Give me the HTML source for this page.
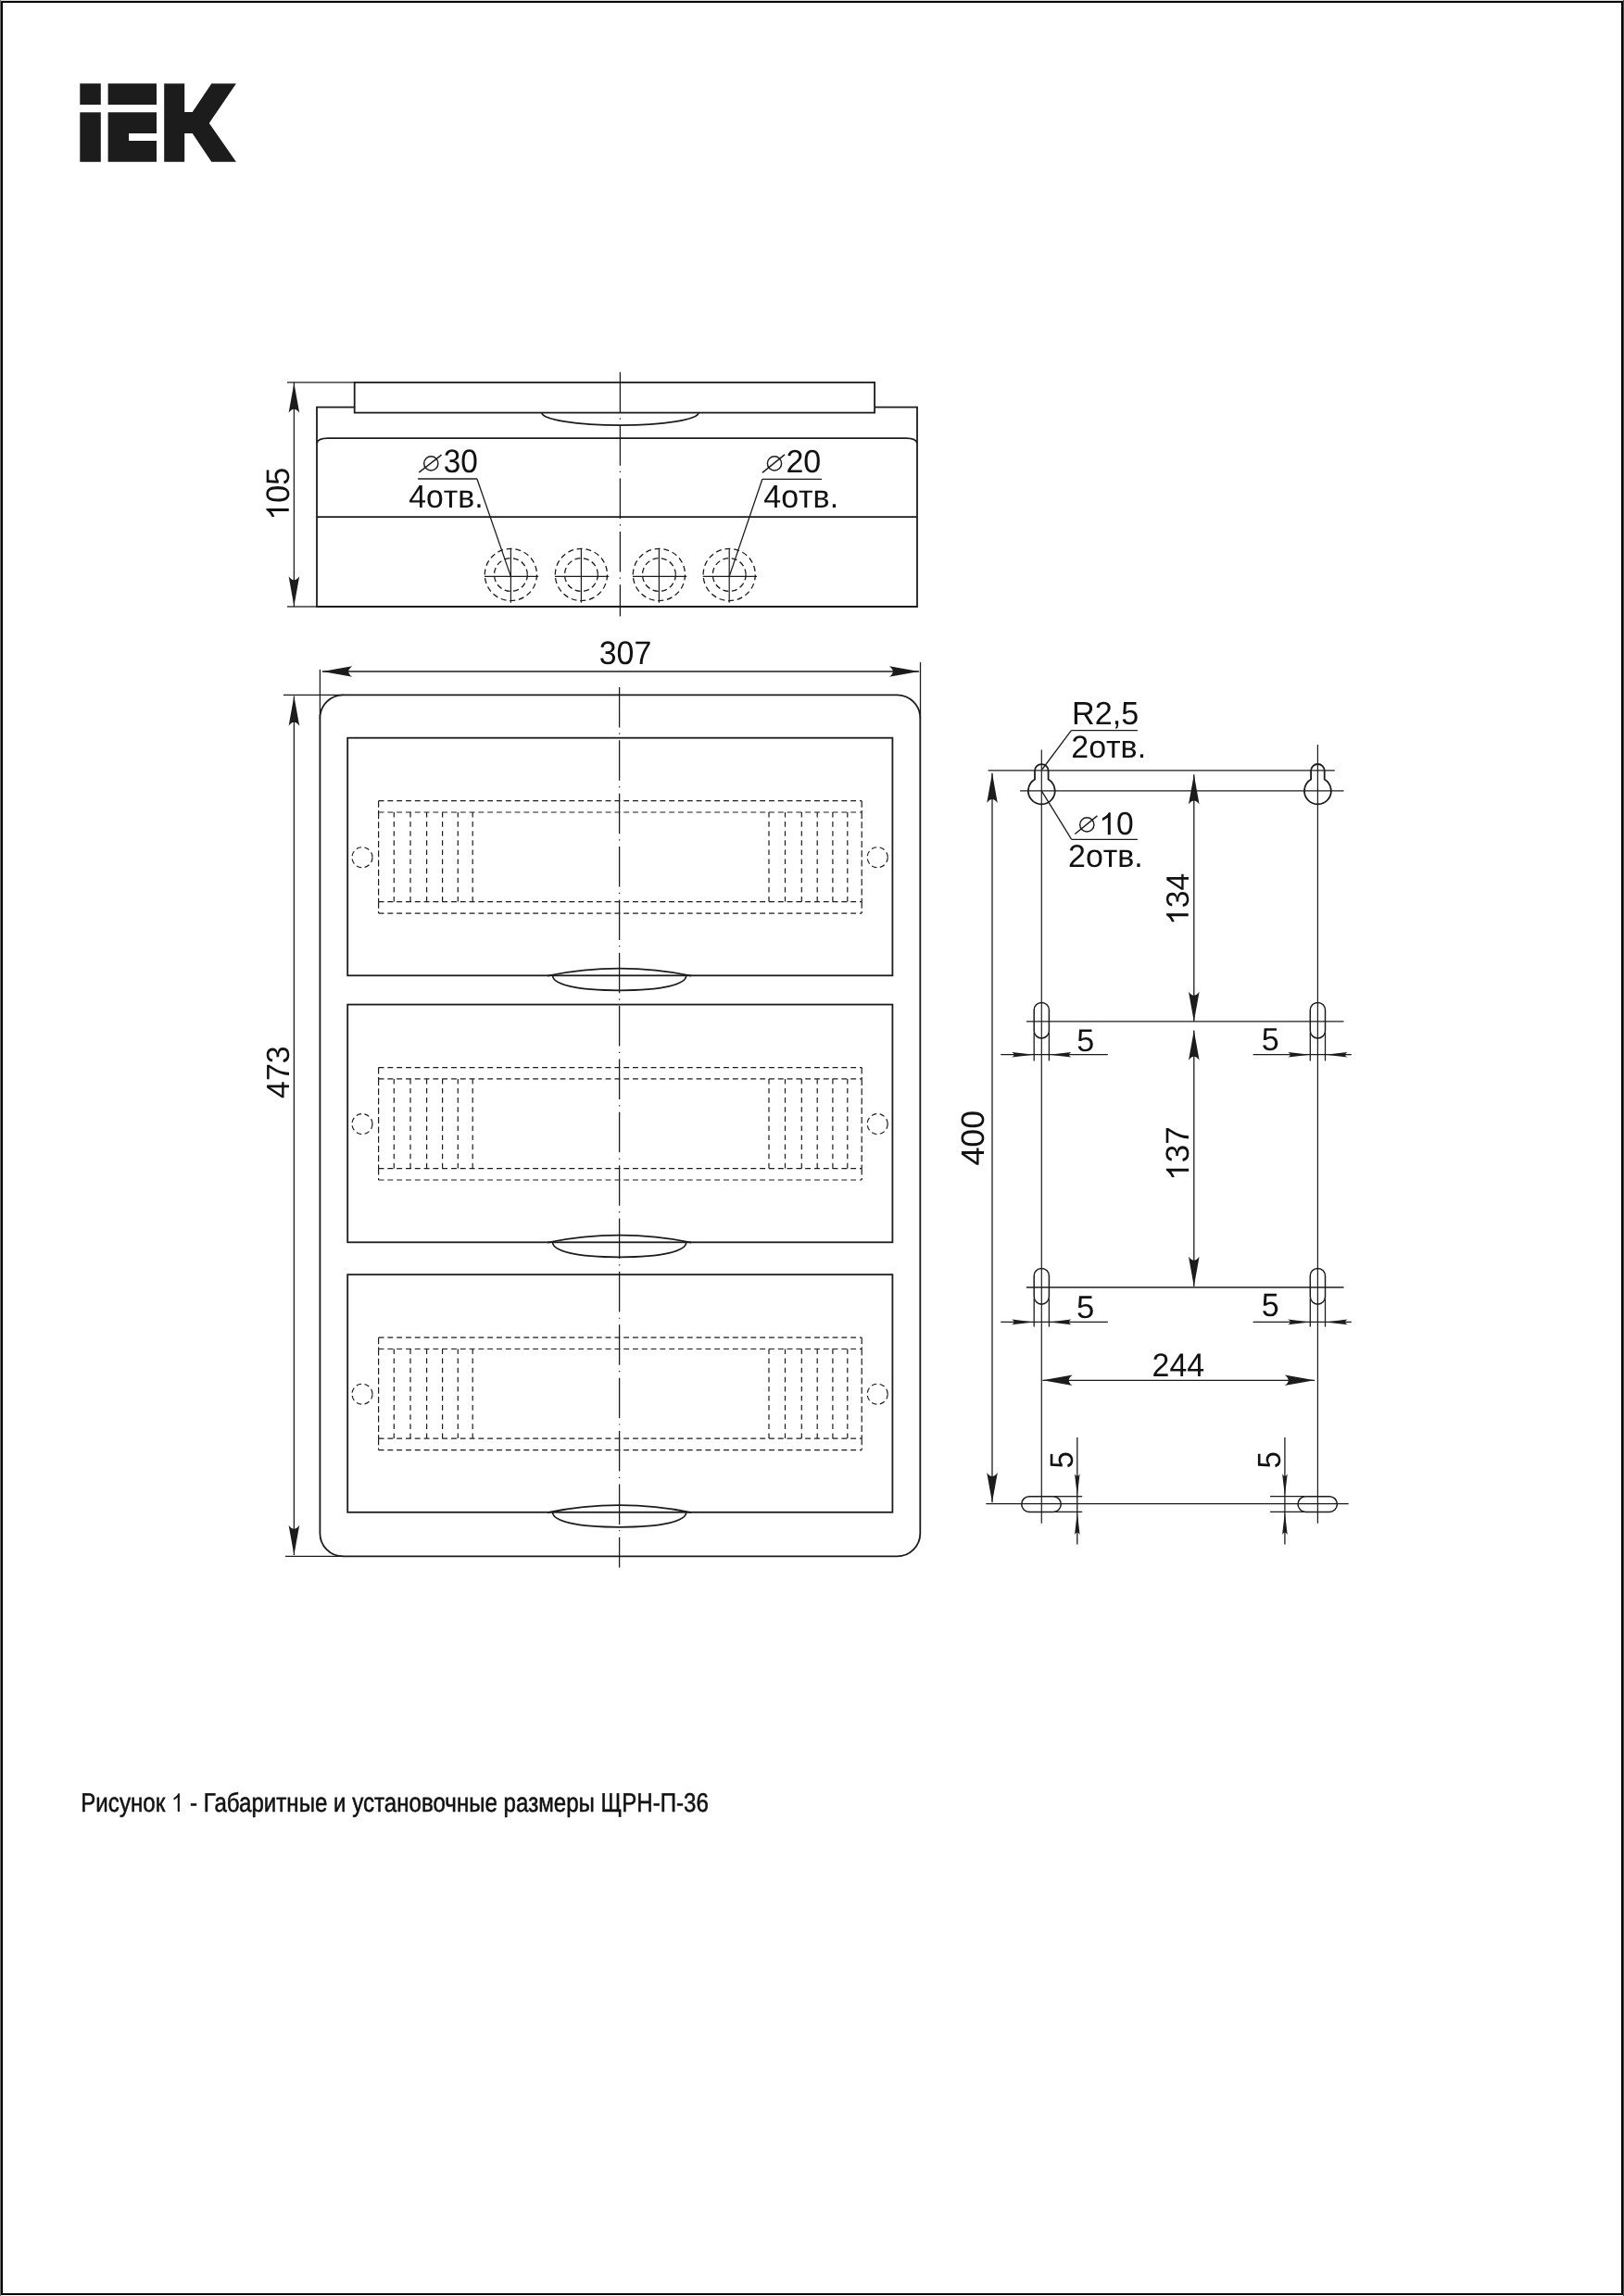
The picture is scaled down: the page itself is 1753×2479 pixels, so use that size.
<!DOCTYPE html>
<html><head><meta charset="utf-8"><style>
html,body{margin:0;padding:0;background:#fff;}
body{width:1753px;height:2479px;position:relative;overflow:hidden;}
#frame{position:absolute;left:1px;top:1px;width:1747px;height:2473px;border:2px solid #000;}
#edgeL{position:absolute;left:0;top:0;width:1px;height:2479px;background:#707070;}
#edgeT{position:absolute;left:0;top:0;width:1753px;height:1px;background:#dcdcdc;}
#edgeR{position:absolute;left:1752px;top:0;width:1px;height:2479px;background:#4a4a4a;}
svg{position:absolute;left:0;top:0;will-change:transform;}
svg text{font-family:"Liberation Sans", sans-serif;fill:#111;font-kerning:none;text-rendering:geometricPrecision;}
.cap{position:absolute;left:88px;top:1930px;font-family:"Liberation Sans", sans-serif;font-size:28px;color:#111;white-space:nowrap;}
</style></head><body>
<div id="edgeT"></div><div id="edgeL"></div><div id="edgeR"></div><div id="frame"></div>
<svg width="1753" height="2479" viewBox="0 0 1753 2479">
<g fill="#1c1c1c"><rect x="86.3" y="90.2" width="22.5" height="22.8"/><rect x="86.3" y="121.3" width="22.5" height="53.5"/><rect x="116.6" y="90.2" width="52.4" height="22.8"/><path d="M116.6,121.3 H169 V144 H139.1 V152 H169 V174.8 H116.6 Z"/><path d="M177.2,90.2 H199.2 V121 H207.7 L228.3,90.2 H254.9 L225.8,133 L254.9,174.8 H228.3 L207.7,144 H199.2 V174.8 H177.2 Z"/></g>
<rect x="382.7" y="412.9" width="561.4" height="32.7" stroke="#1c1c1c" stroke-width="1.8" fill="none"/>
<path d="M382.7,439.6 H342 V655 H990 V439.6 H944.1" stroke="#1c1c1c" stroke-width="1.8" fill="none" />
<path d="M342,478.5 Q343,473.2 354,473.2 H978 Q989,473.2 990,478.5" stroke="#1c1c1c" stroke-width="1.8" fill="none" />
<line x1="342.00" y1="558.20" x2="990.00" y2="558.20" stroke="#1c1c1c" stroke-width="1.8" />
<path d="M584.8,445.6 A84.65,13.6 0 0 0 754.1,445.6" stroke="#1c1c1c" stroke-width="1.8" fill="none" />
<line x1="342.00" y1="655.00" x2="990.00" y2="655.00" stroke="#1c1c1c" stroke-width="2.0" />
<line x1="669.40" y1="401.80" x2="669.40" y2="665.60" stroke="#1c1c1c" stroke-width="1.3" stroke-dasharray="43.5 6.2 1.2 6.47"/>
<circle cx="551.4" cy="620.5" r="28.1" stroke="#1c1c1c" stroke-width="1.3" fill="none" stroke-dasharray="6 3.8"/>
<circle cx="551.4" cy="620.5" r="17.9" stroke="#1c1c1c" stroke-width="1.3" fill="none" stroke-dasharray="6 3.6"/>
<line x1="523.00" y1="622.40" x2="581.20" y2="622.40" stroke="#1c1c1c" stroke-width="1.2" />
<line x1="551.40" y1="592.40" x2="551.40" y2="650.80" stroke="#1c1c1c" stroke-width="1.2" />
<circle cx="627.4" cy="620.5" r="28.1" stroke="#1c1c1c" stroke-width="1.3" fill="none" stroke-dasharray="6 3.8"/>
<circle cx="627.4" cy="620.5" r="17.9" stroke="#1c1c1c" stroke-width="1.3" fill="none" stroke-dasharray="6 3.6"/>
<line x1="599.00" y1="622.40" x2="657.20" y2="622.40" stroke="#1c1c1c" stroke-width="1.2" />
<line x1="627.40" y1="592.40" x2="627.40" y2="650.80" stroke="#1c1c1c" stroke-width="1.2" />
<circle cx="711.4" cy="620.5" r="28.1" stroke="#1c1c1c" stroke-width="1.3" fill="none" stroke-dasharray="6 3.8"/>
<circle cx="711.4" cy="620.5" r="17.9" stroke="#1c1c1c" stroke-width="1.3" fill="none" stroke-dasharray="6 3.6"/>
<line x1="683.00" y1="622.40" x2="741.20" y2="622.40" stroke="#1c1c1c" stroke-width="1.2" />
<line x1="711.40" y1="592.40" x2="711.40" y2="650.80" stroke="#1c1c1c" stroke-width="1.2" />
<circle cx="787.2" cy="620.5" r="28.1" stroke="#1c1c1c" stroke-width="1.3" fill="none" stroke-dasharray="6 3.8"/>
<circle cx="787.2" cy="620.5" r="17.9" stroke="#1c1c1c" stroke-width="1.3" fill="none" stroke-dasharray="6 3.6"/>
<line x1="758.80" y1="622.40" x2="817.00" y2="622.40" stroke="#1c1c1c" stroke-width="1.2" />
<line x1="787.20" y1="592.40" x2="787.20" y2="650.80" stroke="#1c1c1c" stroke-width="1.2" />
<line x1="310.00" y1="412.90" x2="382.70" y2="412.90" stroke="#1c1c1c" stroke-width="1.3" />
<line x1="310.00" y1="655.00" x2="342.00" y2="655.00" stroke="#1c1c1c" stroke-width="1.3" />
<line x1="317.40" y1="412.90" x2="317.40" y2="655.00" stroke="#1c1c1c" stroke-width="1.3" />
<path d="M317.40,413.50 L323.20,445.80 Q317.40,437.80 311.60,445.80 Z" fill="#1c1c1c"/>
<path d="M317.40,654.50 L311.60,622.20 Q317.40,630.20 323.20,622.20 Z" fill="#1c1c1c"/>
<g transform="matrix(0,-0.34139,0.35311,0,311.747,561.621)"><path transform="translate(0.00,0.00) scale(100.000,-96.100)" d="M0.373,0 L0.285,0 L0.285,0.560 C0.264,0.540 0.236,0.520 0.201,0.499 C0.167,0.479 0.136,0.464 0.109,0.453 L0.109,0.538 C0.158,0.561 0.201,0.589 0.238,0.622 C0.275,0.655 0.301,0.687 0.316,0.716 L0.373,0.716 Z" fill="#111"/><text x="55.62" y="0" font-size="100.0">05</text></g>
<circle cx="465.30" cy="500.40" r="7.6" stroke="#1c1c1c" stroke-width="1.45" fill="none"/>
<line x1="452.20" y1="510.10" x2="476.60" y2="491.10" stroke="#1c1c1c" stroke-width="1.45" />
<g transform="matrix(0.33425,0,0,0.35452,478.630,510.045)"><text x="0.00" y="0" font-size="100.0">30</text></g>
<line x1="451.10" y1="517.00" x2="514.90" y2="517.00" stroke="#1c1c1c" stroke-width="1.3" />
<line x1="514.90" y1="517.00" x2="551.40" y2="622.40" stroke="#1c1c1c" stroke-width="1.3" />
<g transform="matrix(0.33810,0,0,0.34814,441.222,548.052)"><text x="0.00" y="0" font-size="100.0">4отв.</text></g>
<circle cx="836.00" cy="500.40" r="7.6" stroke="#1c1c1c" stroke-width="1.45" fill="none"/>
<line x1="822.90" y1="510.40" x2="847.00" y2="490.90" stroke="#1c1c1c" stroke-width="1.45" />
<g transform="matrix(0.34012,0,0,0.34746,848.399,509.553)"><text x="0.00" y="0" font-size="100.0">20</text></g>
<line x1="822.90" y1="517.30" x2="887.10" y2="517.30" stroke="#1c1c1c" stroke-width="1.3" />
<line x1="822.90" y1="517.30" x2="787.20" y2="622.40" stroke="#1c1c1c" stroke-width="1.3" />
<g transform="matrix(0.33943,0,0,0.34814,824.319,547.952)"><text x="0.00" y="0" font-size="100.0">4отв.</text></g>
<rect x="345.4" y="750.3" width="647.9" height="930.1" rx="25" ry="25" stroke="#1c1c1c" stroke-width="1.8" fill="none"/>
<rect x="375.2" y="796.7" width="588.2" height="256.6" stroke="#1c1c1c" stroke-width="1.8" fill="none"/>
<line x1="408.60" y1="864.70" x2="930.20" y2="864.70" stroke="#1c1c1c" stroke-width="1.2" stroke-dasharray="5.9 3.9"/>
<line x1="408.60" y1="877.00" x2="930.20" y2="877.00" stroke="#1c1c1c" stroke-width="1.2" stroke-dasharray="5.9 3.9"/>
<line x1="408.60" y1="973.70" x2="930.20" y2="973.70" stroke="#1c1c1c" stroke-width="1.2" stroke-dasharray="5.9 3.9"/>
<line x1="408.60" y1="986.10" x2="930.20" y2="986.10" stroke="#1c1c1c" stroke-width="1.2" stroke-dasharray="5.9 3.9"/>
<line x1="408.60" y1="864.70" x2="408.60" y2="877.00" stroke="#1c1c1c" stroke-width="1.2" stroke-dasharray="7 3.3"/>
<line x1="408.60" y1="877.00" x2="408.60" y2="973.70" stroke="#1c1c1c" stroke-width="1.2" stroke-dasharray="7 3.3"/>
<line x1="408.60" y1="973.70" x2="408.60" y2="986.10" stroke="#1c1c1c" stroke-width="1.2" stroke-dasharray="7 3.3"/>
<line x1="930.20" y1="864.70" x2="930.20" y2="877.00" stroke="#1c1c1c" stroke-width="1.2" stroke-dasharray="7 3.3"/>
<line x1="930.20" y1="877.00" x2="930.20" y2="973.70" stroke="#1c1c1c" stroke-width="1.2" stroke-dasharray="7 3.3"/>
<line x1="930.20" y1="973.70" x2="930.20" y2="986.10" stroke="#1c1c1c" stroke-width="1.2" stroke-dasharray="7 3.3"/>
<line x1="425.30" y1="877.00" x2="425.30" y2="973.70" stroke="#1c1c1c" stroke-width="1.2" stroke-dasharray="5.6 4.5"/>
<line x1="443.00" y1="877.00" x2="443.00" y2="973.70" stroke="#1c1c1c" stroke-width="1.2" stroke-dasharray="5.6 4.5"/>
<line x1="460.60" y1="877.00" x2="460.60" y2="973.70" stroke="#1c1c1c" stroke-width="1.2" stroke-dasharray="5.6 4.5"/>
<line x1="477.60" y1="877.00" x2="477.60" y2="973.70" stroke="#1c1c1c" stroke-width="1.2" stroke-dasharray="5.6 4.5"/>
<line x1="494.30" y1="877.00" x2="494.30" y2="973.70" stroke="#1c1c1c" stroke-width="1.2" stroke-dasharray="5.6 4.5"/>
<line x1="510.20" y1="877.00" x2="510.20" y2="973.70" stroke="#1c1c1c" stroke-width="1.2" stroke-dasharray="5.6 4.5"/>
<line x1="830.00" y1="877.00" x2="830.00" y2="973.70" stroke="#1c1c1c" stroke-width="1.2" stroke-dasharray="5.6 4.5"/>
<line x1="847.50" y1="877.00" x2="847.50" y2="973.70" stroke="#1c1c1c" stroke-width="1.2" stroke-dasharray="5.6 4.5"/>
<line x1="865.30" y1="877.00" x2="865.30" y2="973.70" stroke="#1c1c1c" stroke-width="1.2" stroke-dasharray="5.6 4.5"/>
<line x1="882.20" y1="877.00" x2="882.20" y2="973.70" stroke="#1c1c1c" stroke-width="1.2" stroke-dasharray="5.6 4.5"/>
<line x1="898.90" y1="877.00" x2="898.90" y2="973.70" stroke="#1c1c1c" stroke-width="1.2" stroke-dasharray="5.6 4.5"/>
<line x1="914.80" y1="877.00" x2="914.80" y2="973.70" stroke="#1c1c1c" stroke-width="1.2" stroke-dasharray="5.6 4.5"/>
<circle cx="391" cy="925.7" r="11" stroke="#1c1c1c" stroke-width="1.2" fill="none" stroke-dasharray="5.5 3.5"/>
<circle cx="947.2" cy="925.7" r="11" stroke="#1c1c1c" stroke-width="1.2" fill="none" stroke-dasharray="5.5 3.5"/>
<path d="M591.1,1053.6 A389.4,389.4 0 0 1 746.2,1053.6" stroke="#1c1c1c" stroke-width="1.7" fill="none" />
<path d="M596.6,1053.3 C596.6,1062.8999999999999 621.8175,1069.3 668.65,1069.3 C715.4825,1069.3 740.6999999999999,1062.8999999999999 740.6999999999999,1053.3" stroke="#1c1c1c" stroke-width="1.7" fill="none" />
<rect x="375.2" y="1084.6" width="588.2" height="256.7" stroke="#1c1c1c" stroke-width="1.8" fill="none"/>
<line x1="408.60" y1="1152.60" x2="930.20" y2="1152.60" stroke="#1c1c1c" stroke-width="1.2" stroke-dasharray="5.9 3.9"/>
<line x1="408.60" y1="1164.90" x2="930.20" y2="1164.90" stroke="#1c1c1c" stroke-width="1.2" stroke-dasharray="5.9 3.9"/>
<line x1="408.60" y1="1261.60" x2="930.20" y2="1261.60" stroke="#1c1c1c" stroke-width="1.2" stroke-dasharray="5.9 3.9"/>
<line x1="408.60" y1="1274.00" x2="930.20" y2="1274.00" stroke="#1c1c1c" stroke-width="1.2" stroke-dasharray="5.9 3.9"/>
<line x1="408.60" y1="1152.60" x2="408.60" y2="1164.90" stroke="#1c1c1c" stroke-width="1.2" stroke-dasharray="7 3.3"/>
<line x1="408.60" y1="1164.90" x2="408.60" y2="1261.60" stroke="#1c1c1c" stroke-width="1.2" stroke-dasharray="7 3.3"/>
<line x1="408.60" y1="1261.60" x2="408.60" y2="1274.00" stroke="#1c1c1c" stroke-width="1.2" stroke-dasharray="7 3.3"/>
<line x1="930.20" y1="1152.60" x2="930.20" y2="1164.90" stroke="#1c1c1c" stroke-width="1.2" stroke-dasharray="7 3.3"/>
<line x1="930.20" y1="1164.90" x2="930.20" y2="1261.60" stroke="#1c1c1c" stroke-width="1.2" stroke-dasharray="7 3.3"/>
<line x1="930.20" y1="1261.60" x2="930.20" y2="1274.00" stroke="#1c1c1c" stroke-width="1.2" stroke-dasharray="7 3.3"/>
<line x1="425.30" y1="1164.90" x2="425.30" y2="1261.60" stroke="#1c1c1c" stroke-width="1.2" stroke-dasharray="5.6 4.5"/>
<line x1="443.00" y1="1164.90" x2="443.00" y2="1261.60" stroke="#1c1c1c" stroke-width="1.2" stroke-dasharray="5.6 4.5"/>
<line x1="460.60" y1="1164.90" x2="460.60" y2="1261.60" stroke="#1c1c1c" stroke-width="1.2" stroke-dasharray="5.6 4.5"/>
<line x1="477.60" y1="1164.90" x2="477.60" y2="1261.60" stroke="#1c1c1c" stroke-width="1.2" stroke-dasharray="5.6 4.5"/>
<line x1="494.30" y1="1164.90" x2="494.30" y2="1261.60" stroke="#1c1c1c" stroke-width="1.2" stroke-dasharray="5.6 4.5"/>
<line x1="510.20" y1="1164.90" x2="510.20" y2="1261.60" stroke="#1c1c1c" stroke-width="1.2" stroke-dasharray="5.6 4.5"/>
<line x1="830.00" y1="1164.90" x2="830.00" y2="1261.60" stroke="#1c1c1c" stroke-width="1.2" stroke-dasharray="5.6 4.5"/>
<line x1="847.50" y1="1164.90" x2="847.50" y2="1261.60" stroke="#1c1c1c" stroke-width="1.2" stroke-dasharray="5.6 4.5"/>
<line x1="865.30" y1="1164.90" x2="865.30" y2="1261.60" stroke="#1c1c1c" stroke-width="1.2" stroke-dasharray="5.6 4.5"/>
<line x1="882.20" y1="1164.90" x2="882.20" y2="1261.60" stroke="#1c1c1c" stroke-width="1.2" stroke-dasharray="5.6 4.5"/>
<line x1="898.90" y1="1164.90" x2="898.90" y2="1261.60" stroke="#1c1c1c" stroke-width="1.2" stroke-dasharray="5.6 4.5"/>
<line x1="914.80" y1="1164.90" x2="914.80" y2="1261.60" stroke="#1c1c1c" stroke-width="1.2" stroke-dasharray="5.6 4.5"/>
<circle cx="391" cy="1213.6" r="11" stroke="#1c1c1c" stroke-width="1.2" fill="none" stroke-dasharray="5.5 3.5"/>
<circle cx="947.2" cy="1213.6" r="11" stroke="#1c1c1c" stroke-width="1.2" fill="none" stroke-dasharray="5.5 3.5"/>
<path d="M591.1,1341.6 A389.4,389.4 0 0 1 746.2,1341.6" stroke="#1c1c1c" stroke-width="1.7" fill="none" />
<path d="M596.6,1341.3 C596.6,1350.8999999999999 621.8175,1357.3 668.65,1357.3 C715.4825,1357.3 740.6999999999999,1350.8999999999999 740.6999999999999,1341.3" stroke="#1c1c1c" stroke-width="1.7" fill="none" />
<rect x="375.2" y="1376.2" width="588.2" height="256.6" stroke="#1c1c1c" stroke-width="1.8" fill="none"/>
<line x1="408.60" y1="1444.20" x2="930.20" y2="1444.20" stroke="#1c1c1c" stroke-width="1.2" stroke-dasharray="5.9 3.9"/>
<line x1="408.60" y1="1456.50" x2="930.20" y2="1456.50" stroke="#1c1c1c" stroke-width="1.2" stroke-dasharray="5.9 3.9"/>
<line x1="408.60" y1="1553.20" x2="930.20" y2="1553.20" stroke="#1c1c1c" stroke-width="1.2" stroke-dasharray="5.9 3.9"/>
<line x1="408.60" y1="1565.60" x2="930.20" y2="1565.60" stroke="#1c1c1c" stroke-width="1.2" stroke-dasharray="5.9 3.9"/>
<line x1="408.60" y1="1444.20" x2="408.60" y2="1456.50" stroke="#1c1c1c" stroke-width="1.2" stroke-dasharray="7 3.3"/>
<line x1="408.60" y1="1456.50" x2="408.60" y2="1553.20" stroke="#1c1c1c" stroke-width="1.2" stroke-dasharray="7 3.3"/>
<line x1="408.60" y1="1553.20" x2="408.60" y2="1565.60" stroke="#1c1c1c" stroke-width="1.2" stroke-dasharray="7 3.3"/>
<line x1="930.20" y1="1444.20" x2="930.20" y2="1456.50" stroke="#1c1c1c" stroke-width="1.2" stroke-dasharray="7 3.3"/>
<line x1="930.20" y1="1456.50" x2="930.20" y2="1553.20" stroke="#1c1c1c" stroke-width="1.2" stroke-dasharray="7 3.3"/>
<line x1="930.20" y1="1553.20" x2="930.20" y2="1565.60" stroke="#1c1c1c" stroke-width="1.2" stroke-dasharray="7 3.3"/>
<line x1="425.30" y1="1456.50" x2="425.30" y2="1553.20" stroke="#1c1c1c" stroke-width="1.2" stroke-dasharray="5.6 4.5"/>
<line x1="443.00" y1="1456.50" x2="443.00" y2="1553.20" stroke="#1c1c1c" stroke-width="1.2" stroke-dasharray="5.6 4.5"/>
<line x1="460.60" y1="1456.50" x2="460.60" y2="1553.20" stroke="#1c1c1c" stroke-width="1.2" stroke-dasharray="5.6 4.5"/>
<line x1="477.60" y1="1456.50" x2="477.60" y2="1553.20" stroke="#1c1c1c" stroke-width="1.2" stroke-dasharray="5.6 4.5"/>
<line x1="494.30" y1="1456.50" x2="494.30" y2="1553.20" stroke="#1c1c1c" stroke-width="1.2" stroke-dasharray="5.6 4.5"/>
<line x1="510.20" y1="1456.50" x2="510.20" y2="1553.20" stroke="#1c1c1c" stroke-width="1.2" stroke-dasharray="5.6 4.5"/>
<line x1="830.00" y1="1456.50" x2="830.00" y2="1553.20" stroke="#1c1c1c" stroke-width="1.2" stroke-dasharray="5.6 4.5"/>
<line x1="847.50" y1="1456.50" x2="847.50" y2="1553.20" stroke="#1c1c1c" stroke-width="1.2" stroke-dasharray="5.6 4.5"/>
<line x1="865.30" y1="1456.50" x2="865.30" y2="1553.20" stroke="#1c1c1c" stroke-width="1.2" stroke-dasharray="5.6 4.5"/>
<line x1="882.20" y1="1456.50" x2="882.20" y2="1553.20" stroke="#1c1c1c" stroke-width="1.2" stroke-dasharray="5.6 4.5"/>
<line x1="898.90" y1="1456.50" x2="898.90" y2="1553.20" stroke="#1c1c1c" stroke-width="1.2" stroke-dasharray="5.6 4.5"/>
<line x1="914.80" y1="1456.50" x2="914.80" y2="1553.20" stroke="#1c1c1c" stroke-width="1.2" stroke-dasharray="5.6 4.5"/>
<circle cx="391" cy="1505.2" r="11" stroke="#1c1c1c" stroke-width="1.2" fill="none" stroke-dasharray="5.5 3.5"/>
<circle cx="947.2" cy="1505.2" r="11" stroke="#1c1c1c" stroke-width="1.2" fill="none" stroke-dasharray="5.5 3.5"/>
<path d="M591.1,1633.1 A389.4,389.4 0 0 1 746.2,1633.1" stroke="#1c1c1c" stroke-width="1.7" fill="none" />
<path d="M596.6,1632.8 C596.6,1642.3999999999999 621.8175,1648.8 668.65,1648.8 C715.4825,1648.8 740.6999999999999,1642.3999999999999 740.6999999999999,1632.8" stroke="#1c1c1c" stroke-width="1.7" fill="none" />
<line x1="668.60" y1="741.90" x2="668.60" y2="1692.60" stroke="#1c1c1c" stroke-width="1.3" stroke-dasharray="43.5 6.2 1.2 6.47"/>
<line x1="345.40" y1="722.90" x2="345.40" y2="776.00" stroke="#1c1c1c" stroke-width="1.3" />
<line x1="993.50" y1="715.10" x2="993.50" y2="776.00" stroke="#1c1c1c" stroke-width="1.3" />
<line x1="347.90" y1="725.00" x2="992.10" y2="725.00" stroke="#1c1c1c" stroke-width="1.3" />
<path d="M347.90,725.00 L380.20,719.20 Q372.20,725.00 380.20,730.80 Z" fill="#1c1c1c"/>
<path d="M992.10,725.00 L959.80,730.80 Q967.80,725.00 959.80,719.20 Z" fill="#1c1c1c"/>
<g transform="matrix(0.33917,0,0,0.35311,646.711,716.547)"><text x="0.00" y="0" font-size="100.0">307</text></g>
<line x1="306.00" y1="750.40" x2="371.00" y2="750.40" stroke="#1c1c1c" stroke-width="1.3" />
<line x1="307.90" y1="1680.40" x2="371.00" y2="1680.40" stroke="#1c1c1c" stroke-width="1.3" />
<line x1="317.40" y1="751.40" x2="317.40" y2="1679.10" stroke="#1c1c1c" stroke-width="1.3" />
<path d="M317.40,751.40 L323.20,783.70 Q317.40,775.70 311.60,783.70 Z" fill="#1c1c1c"/>
<path d="M317.40,1679.10 L311.60,1646.80 Q317.40,1654.80 323.20,1646.80 Z" fill="#1c1c1c"/>
<g transform="matrix(0,-0.33910,0.34746,0,311.553,1185.880)"><text x="0.00" y="0" font-size="100.0">473</text></g>
<line x1="1124.30" y1="809.60" x2="1124.30" y2="1644.70" stroke="#1c1c1c" stroke-width="1.2" />
<line x1="1422.40" y1="804.00" x2="1422.40" y2="1644.70" stroke="#1c1c1c" stroke-width="1.2" />
<line x1="1066.60" y1="831.90" x2="1440.80" y2="831.90" stroke="#1c1c1c" stroke-width="1.3" />
<line x1="1101.10" y1="853.90" x2="1450.50" y2="853.90" stroke="#1c1c1c" stroke-width="1.3" />
<path d="M1117.00,841.59 L1117.00,832.30 A7.3,7.3 0 0 1 1131.60,832.30 L1131.60,841.59 A14.4,14.4 0 1 1 1117.00,841.59 Z" stroke="#1c1c1c" stroke-width="1.8" fill="none" />
<path d="M1415.10,841.59 L1415.10,832.30 A7.3,7.3 0 0 1 1429.70,832.30 L1429.70,841.59 A14.4,14.4 0 1 1 1415.10,841.59 Z" stroke="#1c1c1c" stroke-width="1.8" fill="none" />
<rect x="1116.20" y="1082.4" width="16.20" height="38.60" rx="8.1" ry="8.1" stroke="#1c1c1c" stroke-width="1.5" fill="none"/>
<rect x="1414.30" y="1082.4" width="16.20" height="38.60" rx="8.1" ry="8.1" stroke="#1c1c1c" stroke-width="1.5" fill="none"/>
<line x1="1107.90" y1="1102.90" x2="1450.50" y2="1102.90" stroke="#1c1c1c" stroke-width="1.3" />
<line x1="1116.20" y1="1115.00" x2="1116.20" y2="1145.40" stroke="#1c1c1c" stroke-width="1.3" />
<line x1="1132.40" y1="1115.00" x2="1132.40" y2="1145.40" stroke="#1c1c1c" stroke-width="1.3" />
<line x1="1414.30" y1="1115.00" x2="1414.30" y2="1145.40" stroke="#1c1c1c" stroke-width="1.3" />
<line x1="1430.50" y1="1115.00" x2="1430.50" y2="1145.40" stroke="#1c1c1c" stroke-width="1.3" />
<line x1="1080.20" y1="1138.70" x2="1195.80" y2="1138.70" stroke="#1c1c1c" stroke-width="1.3" />
<path d="M1116.20,1138.70 L1092.20,1141.50 Q1097.20,1138.70 1092.20,1135.90 Z" fill="#1c1c1c"/>
<path d="M1132.40,1138.70 L1156.40,1135.90 Q1151.40,1138.70 1156.40,1141.50 Z" fill="#1c1c1c"/>
<line x1="1352.60" y1="1138.70" x2="1458.80" y2="1138.70" stroke="#1c1c1c" stroke-width="1.3" />
<path d="M1414.30,1138.70 L1390.30,1141.50 Q1395.30,1138.70 1390.30,1135.90 Z" fill="#1c1c1c"/>
<path d="M1430.50,1138.70 L1454.50,1135.90 Q1449.50,1138.70 1454.50,1141.50 Z" fill="#1c1c1c"/>
<rect x="1116.20" y="1369.4" width="16.20" height="38.80" rx="8.1" ry="8.1" stroke="#1c1c1c" stroke-width="1.5" fill="none"/>
<rect x="1414.30" y="1369.4" width="16.20" height="38.80" rx="8.1" ry="8.1" stroke="#1c1c1c" stroke-width="1.5" fill="none"/>
<line x1="1107.90" y1="1390.00" x2="1450.50" y2="1390.00" stroke="#1c1c1c" stroke-width="1.3" />
<line x1="1116.20" y1="1402.20" x2="1116.20" y2="1432.60" stroke="#1c1c1c" stroke-width="1.3" />
<line x1="1132.40" y1="1402.20" x2="1132.40" y2="1432.60" stroke="#1c1c1c" stroke-width="1.3" />
<line x1="1414.30" y1="1402.20" x2="1414.30" y2="1432.60" stroke="#1c1c1c" stroke-width="1.3" />
<line x1="1430.50" y1="1402.20" x2="1430.50" y2="1432.60" stroke="#1c1c1c" stroke-width="1.3" />
<line x1="1080.20" y1="1427.40" x2="1195.80" y2="1427.40" stroke="#1c1c1c" stroke-width="1.3" />
<path d="M1116.20,1427.40 L1092.20,1430.20 Q1097.20,1427.40 1092.20,1424.60 Z" fill="#1c1c1c"/>
<path d="M1132.40,1427.40 L1156.40,1424.60 Q1151.40,1427.40 1156.40,1430.20 Z" fill="#1c1c1c"/>
<line x1="1352.60" y1="1427.40" x2="1458.80" y2="1427.40" stroke="#1c1c1c" stroke-width="1.3" />
<path d="M1414.30,1427.40 L1390.30,1430.20 Q1395.30,1427.40 1390.30,1424.60 Z" fill="#1c1c1c"/>
<path d="M1430.50,1427.40 L1454.50,1424.60 Q1449.50,1427.40 1454.50,1430.20 Z" fill="#1c1c1c"/>
<g transform="matrix(0.34177,0,0,0.34241,1162.133,1135.458)"><text x="0.00" y="0" font-size="100.0">5</text></g>
<g transform="matrix(0.34177,0,0,0.34527,1361.833,1134.055)"><text x="0.00" y="0" font-size="100.0">5</text></g>
<g transform="matrix(0.34810,0,0,0.34384,1162.108,1422.556)"><text x="0.00" y="0" font-size="100.0">5</text></g>
<g transform="matrix(0.34177,0,0,0.35244,1361.833,1421.348)"><text x="0.00" y="0" font-size="100.0">5</text></g>
<rect x="1102.7" y="1615.7" width="42.60" height="16.7" rx="8.35" ry="8.35" stroke="#1c1c1c" stroke-width="1.5" fill="none"/>
<rect x="1401" y="1615.7" width="42.40" height="16.7" rx="8.35" ry="8.35" stroke="#1c1c1c" stroke-width="1.5" fill="none"/>
<line x1="1064.30" y1="1623.60" x2="1455.70" y2="1623.60" stroke="#1c1c1c" stroke-width="1.3" />
<line x1="1138.00" y1="1615.70" x2="1168.20" y2="1615.70" stroke="#1c1c1c" stroke-width="1.3" />
<line x1="1138.00" y1="1632.40" x2="1168.20" y2="1632.40" stroke="#1c1c1c" stroke-width="1.3" />
<line x1="1371.00" y1="1615.70" x2="1408.00" y2="1615.70" stroke="#1c1c1c" stroke-width="1.3" />
<line x1="1371.00" y1="1632.40" x2="1408.00" y2="1632.40" stroke="#1c1c1c" stroke-width="1.3" />
<line x1="1162.80" y1="1552.10" x2="1162.80" y2="1667.60" stroke="#1c1c1c" stroke-width="1.3" />
<path d="M1162.80,1615.20 L1160.00,1591.20 Q1162.80,1596.20 1165.60,1591.20 Z" fill="#1c1c1c"/>
<path d="M1162.80,1632.90 L1165.60,1656.90 Q1162.80,1651.90 1160.00,1656.90 Z" fill="#1c1c1c"/>
<line x1="1386.90" y1="1552.10" x2="1386.90" y2="1667.60" stroke="#1c1c1c" stroke-width="1.3" />
<path d="M1386.90,1615.20 L1384.10,1591.20 Q1386.90,1596.20 1389.70,1591.20 Z" fill="#1c1c1c"/>
<path d="M1386.90,1632.90 L1389.70,1656.90 Q1386.90,1651.90 1384.10,1656.90 Z" fill="#1c1c1c"/>
<g transform="matrix(0,-0.32911,0.35244,0,1158.348,1585.416)"><text x="0.00" y="0" font-size="100.0">5</text></g>
<g transform="matrix(0,-0.33122,0.35100,0,1382.249,1585.525)"><text x="0.00" y="0" font-size="100.0">5</text></g>
<line x1="1071.00" y1="834.80" x2="1071.00" y2="1622.30" stroke="#1c1c1c" stroke-width="1.3" />
<path d="M1071.00,834.80 L1076.80,867.10 Q1071.00,859.10 1065.20,867.10 Z" fill="#1c1c1c"/>
<path d="M1071.00,1622.30 L1065.20,1590.00 Q1071.00,1598.00 1076.80,1590.00 Z" fill="#1c1c1c"/>
<g transform="matrix(0,-0.35796,0.35028,0,1062.250,1258.623)"><text x="0.00" y="0" font-size="100.0">400</text></g>
<line x1="1288.80" y1="836.30" x2="1288.80" y2="1103.00" stroke="#1c1c1c" stroke-width="1.3" />
<path d="M1288.80,836.30 L1294.60,868.60 Q1288.80,860.60 1283.00,868.60 Z" fill="#1c1c1c"/>
<path d="M1288.80,1103.00 L1283.00,1070.70 Q1288.80,1078.70 1294.60,1070.70 Z" fill="#1c1c1c"/>
<g transform="matrix(0,-0.33588,0.34463,0,1282.755,998.861)"><path transform="translate(0.00,0.00) scale(100.000,-96.100)" d="M0.373,0 L0.285,0 L0.285,0.560 C0.264,0.540 0.236,0.520 0.201,0.499 C0.167,0.479 0.136,0.464 0.109,0.453 L0.109,0.538 C0.158,0.561 0.201,0.589 0.238,0.622 C0.275,0.655 0.301,0.687 0.316,0.716 L0.373,0.716 Z" fill="#111"/><text x="55.62" y="0" font-size="100.0">34</text></g>
<line x1="1288.80" y1="1112.50" x2="1288.80" y2="1389.10" stroke="#1c1c1c" stroke-width="1.3" />
<path d="M1288.80,1112.50 L1294.60,1144.80 Q1288.80,1136.80 1283.00,1144.80 Z" fill="#1c1c1c"/>
<path d="M1288.80,1389.10 L1283.00,1356.80 Q1288.80,1364.80 1294.60,1356.80 Z" fill="#1c1c1c"/>
<g transform="matrix(0,-0.35182,0.35311,0,1283.147,1274.835)"><path transform="translate(0.00,0.00) scale(100.000,-96.100)" d="M0.373,0 L0.285,0 L0.285,0.560 C0.264,0.540 0.236,0.520 0.201,0.499 C0.167,0.479 0.136,0.464 0.109,0.453 L0.109,0.538 C0.158,0.561 0.201,0.589 0.238,0.622 C0.275,0.655 0.301,0.687 0.316,0.716 L0.373,0.716 Z" fill="#111"/><text x="55.62" y="0" font-size="100.0">37</text></g>
<line x1="1125.40" y1="1490.30" x2="1419.00" y2="1490.30" stroke="#1c1c1c" stroke-width="1.3" />
<path d="M1125.40,1490.30 L1157.70,1484.50 Q1149.70,1490.30 1157.70,1496.10 Z" fill="#1c1c1c"/>
<path d="M1419.00,1490.30 L1386.70,1496.10 Q1394.70,1490.30 1386.70,1484.50 Z" fill="#1c1c1c"/>
<g transform="matrix(0.33914,0,0,0.35530,1243.604,1485.900)"><text x="0.00" y="0" font-size="100.0">244</text></g>
<g transform="matrix(0.34203,0,0,0.34867,1157.095,781.637)"><text x="0.00" y="0" font-size="100.0">R2,5</text></g>
<line x1="1156.40" y1="788.60" x2="1227.90" y2="788.60" stroke="#1c1c1c" stroke-width="1.3" />
<line x1="1156.40" y1="788.60" x2="1125.10" y2="830.50" stroke="#1c1c1c" stroke-width="1.3" />
<g transform="matrix(0.33950,0,0,0.34040,1156.302,818.460)"><text x="0.00" y="0" font-size="100.0">2отв.</text></g>
<circle cx="1173.30" cy="890.40" r="7.6" stroke="#1c1c1c" stroke-width="1.45" fill="none"/>
<line x1="1160.30" y1="900.50" x2="1184.40" y2="880.90" stroke="#1c1c1c" stroke-width="1.45" />
<g transform="matrix(0.33605,0,0,0.34887,1186.237,901.351)"><path transform="translate(0.00,0.00) scale(100.000,-96.100)" d="M0.373,0 L0.285,0 L0.285,0.560 C0.264,0.540 0.236,0.520 0.201,0.499 C0.167,0.479 0.136,0.464 0.109,0.453 L0.109,0.538 C0.158,0.561 0.201,0.589 0.238,0.622 C0.275,0.655 0.301,0.687 0.316,0.716 L0.373,0.716 Z" fill="#111"/><text x="55.62" y="0" font-size="100.0">0</text></g>
<line x1="1156.70" y1="906.40" x2="1227.90" y2="906.40" stroke="#1c1c1c" stroke-width="1.3" />
<line x1="1156.70" y1="906.40" x2="1124.30" y2="853.90" stroke="#1c1c1c" stroke-width="1.3" />
<g transform="matrix(0.33950,0,0,0.34463,1153.002,935.955)"><text x="0.00" y="0" font-size="100.0">2отв.</text></g>
<text transform="translate(87.3,1956.0) scale(0.8427,1)" x="0" y="0" font-size="28.6" style="font-kerning:normal" stroke="#111" stroke-width="0.55">Рисунок</text><path transform="translate(184.89,1956.00) scale(24.100,-27.485)" d="M0.373,0 L0.285,0 L0.285,0.560 C0.264,0.540 0.236,0.520 0.201,0.499 C0.167,0.479 0.136,0.464 0.109,0.453 L0.109,0.538 C0.158,0.561 0.201,0.589 0.238,0.622 C0.275,0.655 0.301,0.687 0.316,0.716 L0.373,0.716 Z" fill="#111"/><text transform="translate(204.99,1956.0) scale(0.8427,1)" x="0" y="0" font-size="28.6" style="font-kerning:normal" stroke="#111" stroke-width="0.55">- Габаритные и установочные размеры ЩРН-П-36</text>
</svg>
</body></html>
